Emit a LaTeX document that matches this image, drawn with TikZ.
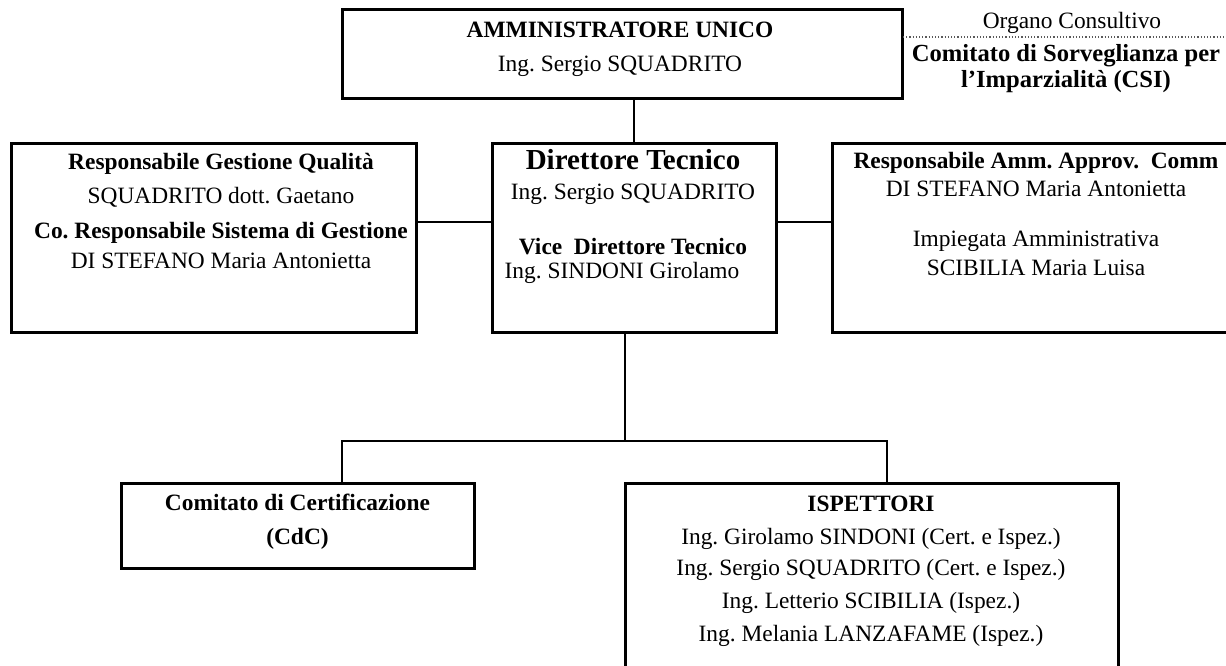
\documentclass[tikz,border=0pt]{standalone}
\usepackage{fontspec}
\setmainfont{Liberation Serif}
\usetikzlibrary{positioning}
\frenchspacing

\tikzset{
  box/.style={draw, line width=1.5pt, inner sep=0pt},
  txt/.style={align=center, inner sep=0pt},
  link/.style={line width=1pt},
}

\begin{document}
\begin{tikzpicture}[x=0.5pt, y=-0.5pt, font=\fontsize{11.7}{17}\selectfont]
  \useasboundingbox (0,0) rectangle (1226,665);
  \clip (0,0) rectangle (1226,665);

  % caselle
  \node[box, minimum width=280pt, minimum height=44.5pt] (amm) at (622,53.5) {};
  \node[box, minimum width=142pt, minimum height=94.5pt] (dir) at (634,237.5) {};
  \node[box, minimum width=202.5pt, minimum height=94.5pt] (rgq) at (213.5,237.5) {};
  \node[box, minimum width=204pt, minimum height=94.5pt] (ramm) at (1036,237.5) {};
  \node[box, minimum width=176.5pt, minimum height=42.5pt] (cdc) at (297.5,525.5) {};
  \node[box, minimum width=246.5pt, minimum height=108.5pt] (isp) at (871.5,591.5) {};

  % testi
  \node[txt] (amm-t) at (620,49) {\textbf{AMMINISTRATORE UNICO}\\Ing. Sergio SQUADRITO};
  \node[txt] (org-t) at (1072,23) {Organo Consultivo};
  \node[txt, font=\fontsize{12.3}{13}\selectfont\bfseries] (csi-t) at (1066,69) {Comitato di Sorveglianza per\\l'Imparzialità (CSI)};
  \node[txt] (rgq-t) at (221,211) {\textbf{Responsabile Gestione Qualità}\\SQUADRITO dott. Gaetano\\[0.5pt]
    \textbf{Co. Responsabile Sistema di Gestione}\\[-2pt]DI STEFANO Maria Antonietta};
  \node[txt] (dir-t) at (633,177) {{\fontsize{14.5}{17}\selectfont\bfseries Direttore Tecnico}\\[-2pt]Ing. Sergio SQUADRITO};
  \node[txt] (vice-t) at (633,247) {\textbf{Vice\ \ Direttore Tecnico}};
  \node[txt] (vice-n) at (622,273) {Ing. SINDONI Girolamo};
  \node[txt] (ramm-t) at (1036,174) {\textbf{Responsabile Amm. Approv.\ \ Comm}\\[-3pt]DI STEFANO Maria Antonietta};
  \node[txt] (imp-t) at (1036,253) {Impiegata Amministrativa\\[-2.5pt]SCIBILIA Maria Luisa};
  \node[txt] (cdc-t) at (297.5,522) {\textbf{Comitato di Certificazione}\\\textbf{(CdC)}};
  \node[txt] (isp-t) at (871,571) {\textbf{ISPETTORI}\\[-0.5pt]Ing. Girolamo SINDONI (Cert. e Ispez.)\\[-1.5pt]
    Ing. Sergio SQUADRITO (Cert. e Ispez.)\\[-0.5pt]Ing. Letterio SCIBILIA (Ispez.)\\[-0.5pt]Ing. Melania LANZAFAME (Ispez.)};

  % collegamenti
  \coordinate (csi-l) at (903,37);
  \coordinate (split) at (625,441);
  \coordinate (jl) at (342,441);
  \coordinate (jr) at (887,441);
  \draw[densely dotted, gray!70!black, line width=0.6pt] (csi-l) -- (1226,37);
  \draw[link] (dir.north) -- (dir.north |- amm.south);
  \draw[link] ([yshift=8pt]rgq.east) -- ([yshift=8pt]rgq.east -| dir.west);
  \draw[link] ([yshift=8pt]dir.east) -- ([yshift=8pt]dir.east -| ramm.west);
  \draw[link] ([xshift=-4.5pt]dir.south) -- (split);
  \draw[link] (jl |- cdc.north) -- (jl) -- (jr) -- (jr |- isp.north);
\end{tikzpicture}
\end{document}
